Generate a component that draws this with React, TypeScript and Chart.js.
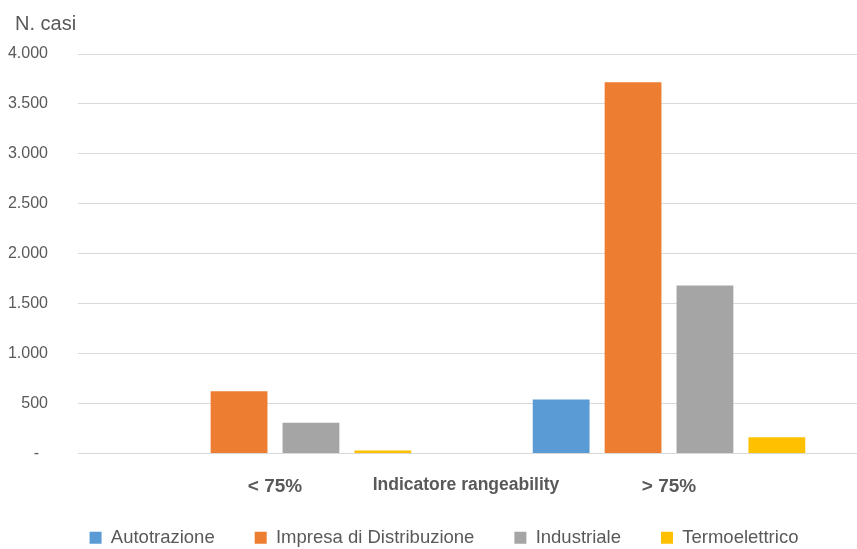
import React, { useEffect, useRef } from "react";
import { Chart, registerables } from "chart.js";

Chart.register(...registerables);

const categories = ["< 75%", "> 75%"];
const seriesNames = ["Autotrazione", "Impresa di Distribuzione", "Industriale", "Termoelettrico"];
const autotrazione = [0, 540];
const impresa = [623, 3717];
const industriale = [307, 1683];
const termoelettrico = [30, 163];
const seriesColors = ["#5B9BD5", "#ED7D31", "#A5A5A5", "#FFC000"];
const yTitle = "N. casi";
const xTitle = "Indicatore rangeability";

const FONT = '"Liberation Sans", Arial, sans-serif';
const TEXT = "#595959";

function fmt(v: number): string {
  if (v === 0) return "-  ";
  return String(Math.round(v)).replace(/\B(?=(\d{3})+(?!\d))/g, ".");
}

const titlesPlugin = {
  id: "titlesPlugin",
  afterLayout(chart: any) {
    const x = chart.scales.x;
    if (x) x.bottom = x.top + 60;
    const lg = chart.legend;
    if (lg) {
      lg.left += 11;
      lg.right += 11;
    }
  },
  afterDraw(chart: any) {
    const ctx = chart.ctx;
    ctx.save();
    ctx.fillStyle = TEXT;
    ctx.font = `20px ${FONT}`;
    ctx.textAlign = "left";
    ctx.textBaseline = "alphabetic";
    ctx.fillText(yTitle, 15, 30);
    ctx.font = `bold 17.5px ${FONT}`;
    ctx.textAlign = "center";
    ctx.textBaseline = "middle";
    ctx.fillText(xTitle, 466, 485);
    ctx.restore();
  },
};

export default function App() {
  const ref = useRef<HTMLCanvasElement | null>(null);
  useEffect(() => {
    if (!ref.current) return;
    const values = [autotrazione, impresa, industriale, termoelettrico];
    const chart = new Chart(ref.current, {
      type: "bar",
      data: {
        labels: categories,
        datasets: seriesNames.map((n, i) => ({
          label: n,
          data: values[i],
          backgroundColor: seriesColors[i],
          borderWidth: 0,
          barPercentage: 0.79,
          categoryPercentage: 0.73,
        })),
      },
      options: {
        animation: false,
        responsive: false,
        maintainAspectRatio: false,
        layout: { padding: { top: 54, right: 14, bottom: 0, left: 0 } },
        plugins: {
          title: { display: false },
          tooltip: { enabled: false },
          legend: {
            position: "bottom",
            labels: {
              boxWidth: 12,
              boxHeight: 12,
              padding: 40,
              color: TEXT,
              font: { family: FONT, size: 18.5 },
            },
          },
        },
        scales: {
          x: {
            afterFit: (s: any) => {
              s.height = 35;
            },
            grid: { display: false },
            border: { display: false },
            ticks: {
              color: TEXT,
              padding: 13.6,
              font: { family: FONT, size: 19, weight: "bold" },
            },
          },
          y: {
            min: 0,
            max: 4000,
            afterFit: (s: any) => {
              s.width = 78;
            },
            grid: { color: "#d9d9d9", lineWidth: 1, drawTicks: false },
            border: { display: false },
            ticks: {
              stepSize: 500,
              padding: 30,
              color: TEXT,
              font: { family: FONT, size: 16 },
              callback: (v: any) => fmt(Number(v)),
            },
          },
        },
      },
      plugins: [titlesPlugin],
    });
    return () => chart.destroy();
  }, []);
  return (
    <div style={{ position: "absolute", left: 0, top: 0, width: 857, height: 549, overflow: "hidden", background: "#fff" }}>
      <canvas ref={ref} width={880} height={557} style={{ display: "block" }} />
    </div>
  );
}
